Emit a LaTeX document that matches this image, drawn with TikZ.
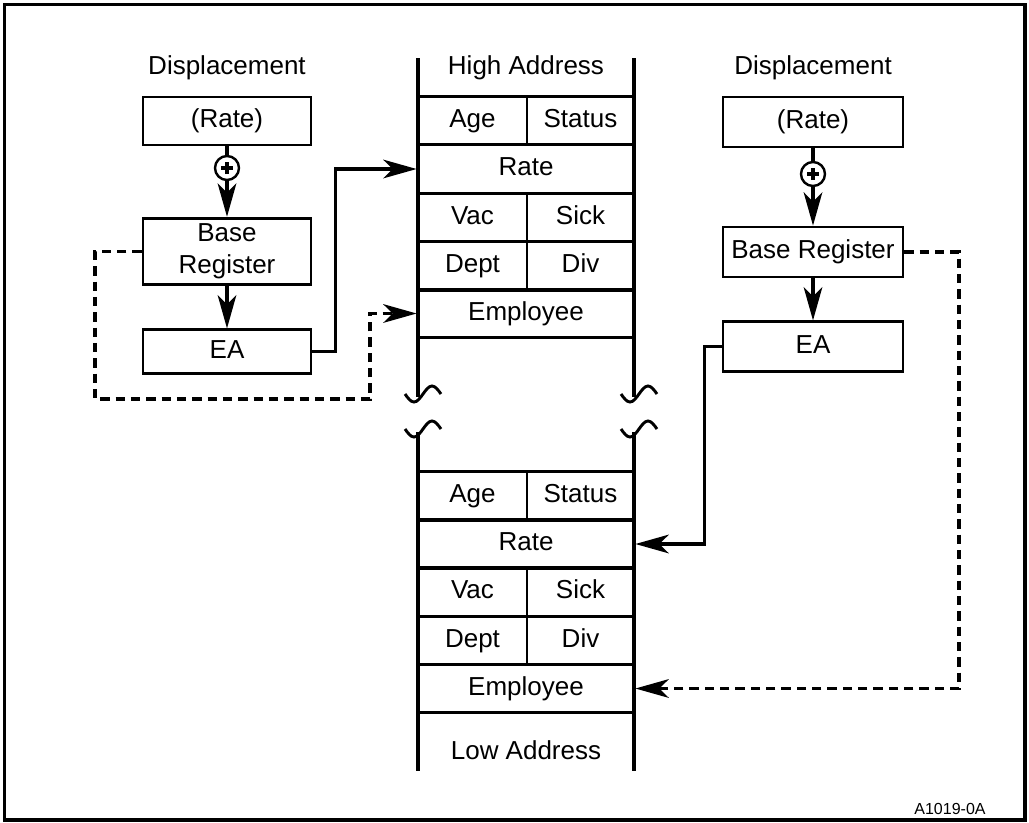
\documentclass[tikz,border=0pt]{standalone}
\usepackage{fontspec}
\setmainfont{Liberation Sans}
\usetikzlibrary{arrows.meta}
\begin{document}
\begin{tikzpicture}[x=0.75pt,y=-0.75pt,
  every node/.style={font=\fontsize{19.5}{23}\selectfont},
  box/.style={draw,line width=2.1pt,rectangle,inner sep=0pt,align=center},
  one/.style={text height=14pt,text depth=4pt},
  cellL/.style={box,one,minimum width=81.75pt,minimum height=36.4pt},
  cellR/.style={box,one,minimum width=80.25pt,minimum height=36.4pt},
  cellF/.style={box,one,minimum width=162pt,minimum height=36.4pt},
  plusc/.style={draw,circle,line width=1.8pt,minimum size=18pt,inner sep=0pt},
  conn/.style={line width=2.3pt},
  arr/.style={conn,-{Stealth[length=25pt,width=14pt,inset=7pt]}},
  dsh/.style={dash pattern=on 7pt off 4.5pt},
  mem/.style={line width=2.3pt},
  wave/.style={line width=2.2pt}
]
\useasboundingbox (0,0) rectangle (1029,822);
\draw[line width=2.6pt] (4.5,4.5) rectangle (1025,820);

% memory column lines
\draw[mem] (418,58) -- (418,397);
\draw[mem] (634,58) -- (634,397);
\draw[mem] (418,432) -- (418,771);
\draw[mem] (634,432) -- (634,771);
% break marks
\foreach \xx in {418,634}{
  \draw[wave] (\xx-13,394) sin (\xx-4,402) cos (\xx+5,394) sin (\xx+14,386) cos (\xx+23,394);
  \draw[wave] (\xx-13,429) sin (\xx-4,437) cos (\xx+5,429) sin (\xx+14,421) cos (\xx+23,429);
}

% upper memory
\node[one] (hiaddr) at (526,68) {High Address};
\node[cellL] (age1) at (472.5,120.5) {Age};
\node[cellR] (status1) at (580.5,120.5) {Status};
\node[cellF] (rate1) at (526,169) {Rate};
\node[cellL] (vac1) at (472.5,217.5) {Vac};
\node[cellR] (sick1) at (580.5,217.5) {Sick};
\node[cellL] (dept1) at (472.5,266) {Dept};
\node[cellR] (div1) at (580.5,266) {Div};
\node[cellF] (emp1) at (526,313.5) {Employee};

% lower memory
\node[cellL] (age2) at (472.5,496) {Age};
\node[cellR] (status2) at (580.5,496) {Status};
\node[cellF] (rate2) at (526,544) {Rate};
\node[cellL] (vac2) at (472.5,592) {Vac};
\node[cellR] (sick2) at (580.5,592) {Sick};
\node[cellL] (dept2) at (472.5,640.5) {Dept};
\node[cellR] (div2) at (580.5,640.5) {Div};
\node[cellF] (emp2) at (526,688.5) {Employee};
\node[one] (lowaddr) at (526,753) {Low Address};

% left block
\node[one] (dispL) at (227,68) {Displacement};
\node[box,one,minimum width=126pt,minimum height=36pt] (rateL) at (227,121) {(Rate)};
\node[plusc] (plusL) at (227,168) {};
\node[box,minimum width=126pt,minimum height=50pt] (baseL) at (227,251.5) {Base\\[1pt]Register};
\node[box,one,minimum width=126pt,minimum height=32.5pt] (eaL) at (227,351.5) {EA};

% right block
\node[one] (dispR) at (813,68) {Displacement};
\node[box,one,minimum width=135pt,minimum height=37.5pt] (rateR) at (813,122) {(Rate)};
\node[plusc] (plusR) at (813,174) {};
\node[box,one,minimum width=135pt,minimum height=37.5pt] (baseR) at (813,252) {Base Register};
\node[box,one,minimum width=135pt,minimum height=37pt] (eaR) at (813,346.5) {EA};

\node[font=\fontsize{12}{14}\selectfont] (code) at (950,809) {A1019-0A};

% plus signs
\foreach \p in {plusL,plusR}{
  \draw[line width=2.3pt] ([xshift=-4.5pt]\p.center) -- ([xshift=4.5pt]\p.center);
  \draw[line width=2.3pt] ([yshift=-4.5pt]\p.center) -- ([yshift=4.5pt]\p.center);
}

% connectors left
\draw[conn] (rateL) -- (plusL);
\draw[arr] (plusL) -- (baseL);
\draw[arr] (baseL) -- (eaL);
\draw[arr] (eaL.east) -- ++(23,0) |- (rate1.west);
\coordinate (dl1) at (95,399);
\coordinate (dl2) at (370,399);
\draw[arr,dsh] (baseL.west) -| (dl1) -- (dl2) |- (emp1.west);

% connectors right
\draw[conn] (rateR) -- (plusR);
\draw[arr] (plusR) -- (baseR);
\draw[arr] (baseR) -- (eaR);
\draw[arr] (eaR.west) -- ++(-17,0) |- (rate2.east);
\coordinate (dr1) at (959,688.5);
\draw[arr,dsh] (baseR.east) -| (dr1) -- (emp2.east);
\end{tikzpicture}
\end{document}
